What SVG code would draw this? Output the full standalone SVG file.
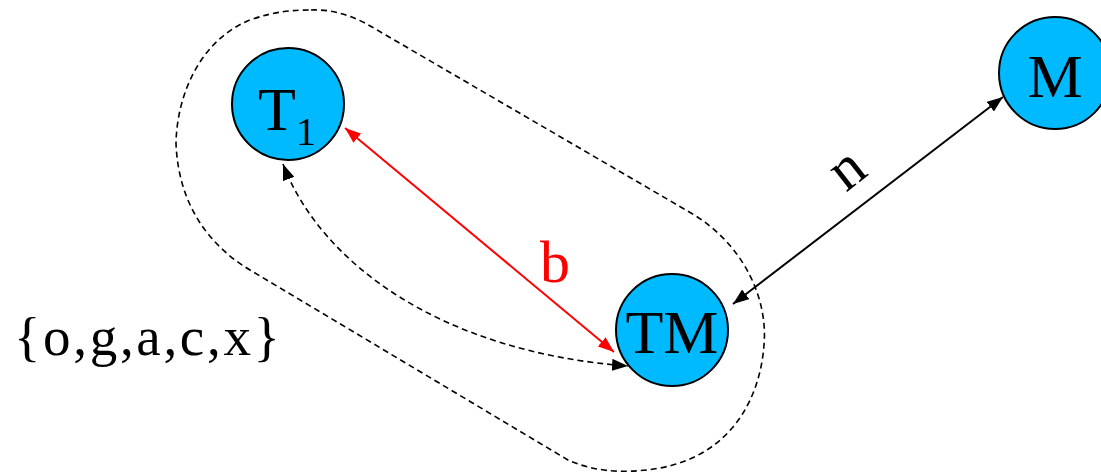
<svg xmlns="http://www.w3.org/2000/svg" width="1101" height="473" viewBox="0 0 1101 473">
<style>
.node{fill:#00BAFF;stroke:#000;stroke-width:2}
.lbl{font-family:"Liberation Serif","Times New Roman",serif;fill:#000}
.dash{fill:none;stroke:#000;stroke-width:1.6;stroke-dasharray:6,4}
</style>
<defs>
<marker id="ab" viewBox="0 0 16 12" refX="16" refY="6" markerWidth="16" markerHeight="12" markerUnits="userSpaceOnUse" orient="auto-start-reverse"><path d="M0,0 L16,6 L0,12 Z" fill="#000" stroke="none"/></marker>
<marker id="ar" viewBox="0 0 16 12" refX="16" refY="6" markerWidth="16" markerHeight="12" markerUnits="userSpaceOnUse" orient="auto-start-reverse"><path d="M0,0 L16,6 L0,12 Z" fill="#F00" stroke="none"/></marker>
</defs>
<rect width="1101" height="473" fill="#fff"/>
<path id="group-outline" class="dash" d="M311,10 C335,9 355,17 372,27 L691,213 C745,245 768,300 764,345 C760,400 730,455 660,468 C620,475 590,470 568,460 L250,270 C205,243 178,200 176,143 C177,95 200,40 250,20 C275,11 295,10 311,10 Z"/>
<g id="connectors">
<line x1="345" y1="128" x2="614" y2="352" stroke="#F00" stroke-width="2" marker-start="url(#ar)" marker-end="url(#ar)"/>
<line x1="733" y1="304" x2="1003" y2="97" stroke="#000" stroke-width="2" marker-start="url(#ab)" marker-end="url(#ab)"/>
<path class="dash" d="M283,164 C320,262 440,352 628,366" marker-start="url(#ab)" marker-end="url(#ab)"/>
<text class="lbl" x="555" y="282" font-size="60" text-anchor="middle" style="fill:#F00">b</text>
<text class="lbl" x="848" y="187" font-size="60" text-anchor="middle" transform="rotate(-38 848 171)">n</text>
</g>
<g id="node-T1">
<circle class="node" cx="288" cy="104" r="56"/>
<text class="lbl" x="258" y="130" font-size="62">T<tspan font-size="40" dy="15">1</tspan></text>
</g>
<g id="node-TM">
<circle class="node" cx="672" cy="330" r="56"/>
<text class="lbl" x="672" y="353" font-size="62" text-anchor="middle">TM</text>
</g>
<g id="node-M">
<circle class="node" cx="1055" cy="73" r="56"/>
<text class="lbl" x="1055" y="97" font-size="62" text-anchor="middle">M</text>
</g>
<text id="set-label" class="lbl" x="14" y="355" font-size="55" textLength="266" lengthAdjust="spacing">{o,g,a,c,x}</text>
</svg>
